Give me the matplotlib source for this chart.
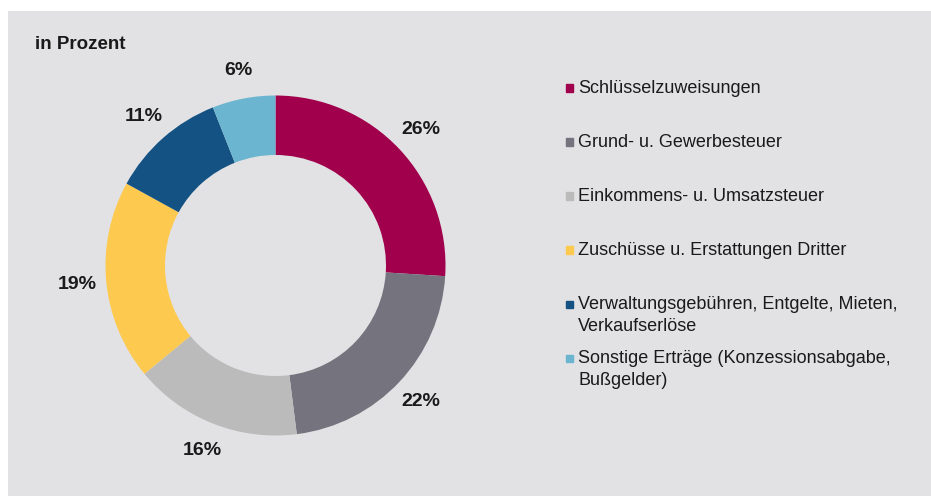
import matplotlib
matplotlib.use("Agg")
import matplotlib.pyplot as plt

plt.rcParams['font.family'] = ['Liberation Sans', 'DejaVu Sans']

labels = [
    "Schlüsselzuweisungen",
    "Grund- u. Gewerbesteuer",
    "Einkommens- u. Umsatzsteuer",
    "Zuschüsse u. Erstattungen Dritter",
    "Verwaltungsgebühren, Entgelte, Mieten,\nVerkaufserlöse",
    "Sonstige Erträge (Konzessionsabgabe,\nBußgelder)",
]
values = [26, 22, 16, 19, 11, 6]
colors = ["#a1004c", "#74737e", "#bbbbbb", "#fec94f", "#135282", "#6cb5d0"]

W, H = 931, 496
fig = plt.figure(figsize=(W / 100, H / 100), dpi=100)
fig.patch.set_facecolor("white")

# grey panel
panel = fig.add_axes([8 / W, 0, 1 - 8 / W, (H - 11) / H])
panel.set_facecolor("#e2e2e4")
panel.set_xticks([])
panel.set_yticks([])
for s in panel.spines.values():
    s.set_visible(False)

fig.text(35 / W, 1 - 49 / H, "in Prozent", fontsize=13.5, fontweight="bold",
         color="#1a1a1a", va="baseline", ha="left")

# donut
cx, cy, r = 275.5, 265.5, 170
ax = fig.add_axes([(cx - r) / W, (H - cy - r) / H, 2 * r / W, 2 * r / H])
ax.pie(values, colors=colors, startangle=90, counterclock=False,
       radius=1, wedgeprops=dict(width=0.35, linewidth=0),
       autopct=lambda p: f"{p:.0f}%", pctdistance=1.17,
       textprops=dict(fontsize=14, fontweight="bold", color="#1a1a1a"))
ax.set_xlim(-1, 1)
ax.set_ylim(-1, 1)
ax.set_facecolor("none")
ax.axis("off")

# legend
y = 93
for lab, col in zip(labels, colors):
    fig.patches.append(plt.Rectangle((566 / W, 1 - (y - 1.5) / H), 7 / W, 7 / H,
                                     transform=fig.transFigure, color=col))
    lines = lab.split("\n")
    for k, line in enumerate(lines):
        fig.text(578 / W, 1 - (y + 22 * k) / H, line, fontsize=13, color="#1a1a1a",
                 va="baseline", ha="left")
    y += 54

fig.savefig("out.png", dpi=100, facecolor=fig.get_facecolor())
